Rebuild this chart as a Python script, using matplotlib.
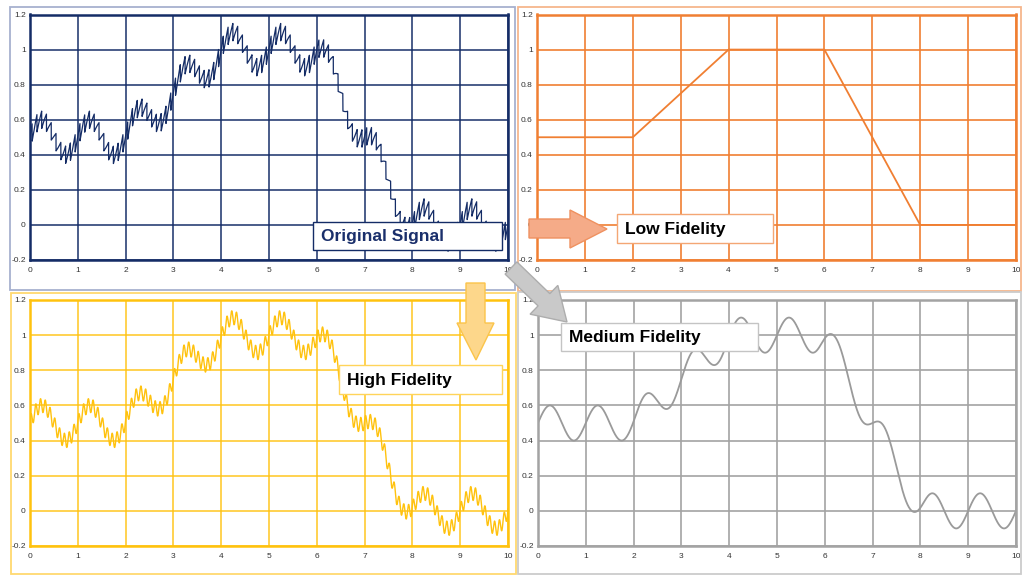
"""Signal fidelity comparison: original vs low / medium / high fidelity reconstructions."""

import matplotlib
matplotlib.use("Agg")
import matplotlib.pyplot as plt
import numpy as np
from matplotlib.patches import Polygon, Rectangle

W, H = 1022, 575

# --- values -------------------------------------------------------------
LOW_T = [0, 2, 4, 6, 8, 10]
LOW_V = [0.5, 0.5, 1.0, 1.0, 0.0, 0.0]

SLOW_AMP = 0.1        # slow ripple amplitude
SLOW_PERIOD = 1.0
FAST_PP = 0.1         # sawtooth peak-to-peak in the original
FAST_PERIOD = 0.1
FAST_DROP = 0.045     # where the sawtooth drops within a period
HIGH_AMP = 0.04       # ripple left in the high fidelity version

X_TICKS = [0, 1, 2, 3, 4, 5, 6, 7, 8, 9, 10]
Y_TICKS = [-0.2, 0, 0.2, 0.4, 0.6, 0.8, 1.0, 1.2]
Y_LABELS = ["-0.2", "0", "0.2", "0.4", "0.6", "0.8", "1", "1.2"]

NAVY = "#142c66"
ORANGE = "#f07f32"
YELLOW = "#ffc20e"
GRAY = "#a3a3a3"

plt.rcParams["font.family"] = ["Liberation Sans", "DejaVu Sans"]


def fx(x):
    return x / W


def fy(y):
    return 1 - y / H


def px_rect(l, t, r, b):
    return [fx(l), fy(b), (r - l) / W, (b - t) / H]


def setup(ax, color, grid_alpha=1.0):
    ax.set_xlim(0, 10)
    ax.set_ylim(-0.2, 1.2)
    ax.set_xticks(X_TICKS)
    ax.set_xticklabels([str(v) for v in X_TICKS])
    ax.set_yticks(Y_TICKS)
    ax.set_yticklabels(Y_LABELS)
    ax.tick_params(length=0, labelsize=6, colors="#333333")
    ax.tick_params(axis="x", pad=5)
    ax.tick_params(axis="y", pad=3)
    ax.grid(True, color=color, lw=1.2, alpha=grid_alpha)
    for s in ax.spines.values():
        s.set_color(color)
        s.set_linewidth(1.8)
    ax.set_axisbelow(True)


t = np.linspace(0, 10, 10001)
trend = np.interp(t, LOW_T, LOW_V)
slow = SLOW_AMP * np.sin(2 * np.pi * t / SLOW_PERIOD)
phase = ((t - FAST_DROP) / FAST_PERIOD) % 1.0
saw = FAST_PP * (phase - 0.5)

original = trend + slow + saw

dt = t[1] - t[0]
k = np.arange(-400, 401) * dt
kern = np.exp(-0.5 * (k / 0.09) ** 2)
kern /= kern.sum()
padded = np.pad(trend, 400, mode="edge")
smooth_trend = np.convolve(padded, kern, mode="valid")
medium = smooth_trend + slow
high = smooth_trend + slow - HIGH_AMP * np.sin(2 * np.pi * (t - FAST_DROP) / FAST_PERIOD)

fig = plt.figure(figsize=(W / 100, H / 100), dpi=100)

# panel frames
frames = [
    ((10, 7, 515, 290), "#a7b1cf"),
    ((518, 7, 1021, 291), "#f6b68c"),
    ((11, 293, 516, 574), "#ffd970"),
    ((518, 292, 1021, 574), "#cccccc"),
]
for (l, t0, r, b), c in frames:
    fig.add_artist(Rectangle((fx(l), fy(b)), (r - l) / W, (b - t0) / H,
                             transform=fig.transFigure, fill=False,
                             edgecolor=c, lw=1.3, zorder=1))

ax1 = fig.add_axes(px_rect(30, 14.5, 508, 260))
setup(ax1, NAVY, 0.9)
ax1.plot(t, original, color=NAVY, lw=0.9)

ax2 = fig.add_axes(px_rect(537, 14.5, 1016, 260))
setup(ax2, ORANGE)
ax2.plot(LOW_T, LOW_V, color=ORANGE, lw=1.3)

ax3 = fig.add_axes(px_rect(30, 300, 508, 546))
setup(ax3, YELLOW, 0.85)
ax3.plot(t, high, color=YELLOW, lw=1.0)

ax4 = fig.add_axes(px_rect(538, 300, 1016, 546))
setup(ax4, GRAY)
ax4.plot(t, medium, color="#9a9a9a", lw=1.3)


def arrow(points, face, edge):
    pts = [(fx(x), fy(y)) for x, y in points]
    fig.add_artist(Polygon(pts, closed=True, transform=fig.transFigure,
                           facecolor=face, edgecolor=edge, lw=1.0, zorder=6))


# orange arrow to the right
arrow([(529, 219), (570, 219), (570, 210), (607, 229), (570, 248),
       (570, 238), (529, 238)], "#f5ab88", "#ef9160")
# yellow arrow down
arrow([(466, 283), (485, 283), (485, 323), (494, 323), (476, 360),
       (457, 323), (466, 323)], "#fdd78b", "#fbc44a")

# gray diagonal arrow
p0 = np.array([511.0, 268.0])
tip = np.array([567.0, 322.0])
d = (tip - p0) / np.linalg.norm(tip - p0)
n = np.array([-d[1], d[0]])
base = tip - d * 32
sw, hw = 8.5, 20
gray_pts = [p0 + n * sw, base + n * sw, base + n * hw, tip,
            base - n * hw, base - n * sw, p0 - n * sw]
arrow([tuple(p) for p in gray_pts], "#c9c9c9", "#adadad")


def label(l, t0, r, b, text, edge, tcolor):
    fig.add_artist(Rectangle((fx(l), fy(b)), (r - l) / W, (b - t0) / H,
                             transform=fig.transFigure, facecolor="white",
                             edgecolor=edge, lw=1.0, zorder=7))
    fig.text(fx(l + 8), fy((t0 + b) / 2 + 0.5), text, fontsize=12.5,
             fontweight="bold", color=tcolor, ha="left", va="center",
             zorder=8)


label(313, 222, 502, 250, "Original Signal", NAVY, "#1a2f6b")
label(617, 214, 773, 243, "Low Fidelity", "#f4a674", "black")
label(339, 365, 502, 394, "High Fidelity", "#ffd45a", "black")
label(561, 323, 758, 351, "Medium Fidelity", "#c4c4c4", "black")

fig.savefig("out.png", dpi=100)
